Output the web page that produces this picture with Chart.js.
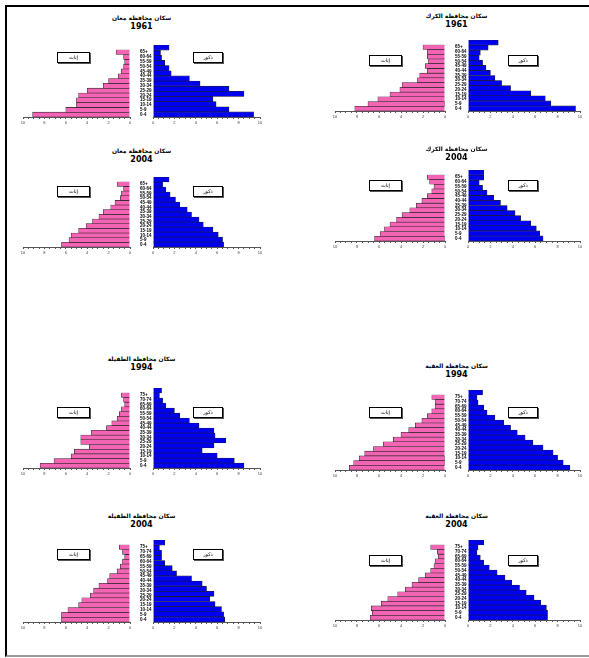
<!DOCTYPE html>
<html lang="ar">
<head>
<meta charset="utf-8">
<script src="https://cdn.jsdelivr.net/npm/chart.js@4"></script>
<style>
  body { margin: 0; background: #fff; }
  #page {
    position: relative; width: 589px; height: 658px; overflow: hidden;
    font-family: "DejaVu Sans", sans-serif;
  }
  #frame {
    position: absolute; left: 5px; top: 5px; width: 590px; height: 648px;
    border-left: 2px solid #000; border-top: 2px solid #000; border-bottom: 2px solid #999;
  }
  .title {
    position: absolute; width: 160px; text-align: center; direction: rtl;
    font-size: 6px; font-weight: bold; line-height: 9px; color: #000;
  }
  .title b { display: block; font-size: 8px; direction: ltr; }
  .key {
    position: absolute; height: 9px; border: 1px solid #000; background: #fff;
    box-shadow: 1px 1px 0 #555; font-size: 5px; line-height: 9px; text-align: center;
    direction: rtl;
  }
  canvas { position: absolute; }
</style>
</head>
<body>
<div id="page"><div id="frame"></div></div>
<script>
// age groups (youngest first)
const ages14 = ['0-4', '5-9', '10-14', '15-19', '20-24', '25-29', '30-34', '35-39',
  '40-44', '45-49', '50-54', '55-59', '60-64', '65+'];
const ages16 = ['0-4', '5-9', '10-14', '15-19', '20-24', '25-29', '30-34', '35-39',
  '40-44', '45-49', '50-54', '55-59', '60-64', '65-69', '70-74', '75+'];

// percent of population per age group
const maan1961F = [9.1, 6.0, 5.0, 5.0, 4.8, 4.0, 2.5, 2.0, 1.1, 0.8, 0.6, 0.5, 0.6, 1.3];
const maan1961M = [9.4, 7.1, 5.9, 5.6, 8.5, 7.1, 4.4, 3.4, 1.7, 1.5, 1.1, 0.8, 0.7, 1.5];
const karak1961F = [8.2, 7.0, 6.1, 5.0, 4.1, 3.9, 2.5, 2.3, 1.6, 1.8, 1.5, 1.6, 1.6, 2.0];
const karak1961M = [9.6, 7.4, 6.9, 5.6, 3.8, 3.0, 2.4, 2.0, 1.6, 1.3, 1.0, 1.1, 1.8, 2.7];
const maan2004F = [6.4, 5.7, 5.5, 4.8, 4.1, 3.5, 2.9, 2.5, 1.8, 1.4, 0.9, 0.8, 0.6, 1.2];
const maan2004M = [6.6, 6.5, 6.1, 5.6, 4.7, 4.3, 3.6, 3.2, 2.5, 2.1, 1.6, 1.2, 0.9, 1.5];
const karak2004F = [6.4, 5.9, 5.5, 5.0, 4.4, 3.9, 3.2, 2.6, 2.1, 1.6, 1.2, 1.0, 1.4, 1.6];
const karak2004M = [6.7, 6.4, 6.1, 5.6, 4.7, 4.2, 3.5, 2.9, 2.3, 1.7, 1.3, 1.0, 1.4, 1.4];
const tafila1994F = [8.4, 7.1, 5.5, 5.2, 3.8, 4.6, 4.6, 3.6, 2.2, 1.7, 1.2, 1.0, 0.8, 0.5, 0.6, 0.8];
const tafila1994M = [8.5, 7.6, 6.0, 4.6, 5.7, 6.8, 5.8, 5.7, 4.3, 3.4, 2.5, 2.0, 1.2, 0.9, 0.6, 0.8];
const aqaba1994F = [8.7, 8.3, 7.8, 7.3, 6.5, 5.6, 4.7, 4.0, 3.3, 2.7, 2.1, 1.6, 1.2, 0.9, 0.9, 1.2];
const aqaba1994M = [9.1, 8.5, 8.0, 7.6, 6.7, 5.8, 5.1, 4.4, 3.8, 3.2, 2.4, 1.7, 1.4, 0.9, 0.8, 1.3];
const tafila2004F = [6.4, 6.4, 5.8, 4.8, 4.5, 3.7, 3.4, 2.9, 2.1, 1.9, 1.2, 0.9, 0.7, 0.5, 0.7, 1.0];
const tafila2004M = [6.7, 6.6, 6.4, 5.8, 5.3, 5.7, 5.0, 4.6, 3.6, 2.2, 1.8, 1.1, 0.8, 0.8, 0.6, 1.1];
const aqaba2004F = [6.8, 6.6, 6.7, 5.8, 5.2, 4.3, 3.6, 3.0, 2.4, 1.8, 1.3, 1.0, 0.9, 0.6, 0.7, 1.3];
const aqaba2004M = [7.1, 7.1, 7.0, 6.5, 5.9, 5.2, 4.6, 3.9, 3.3, 2.6, 1.9, 1.4, 1.1, 0.8, 0.9, 1.4];

const femaleLabel = 'إناث';
const maleLabel = 'ذكور';
const pink = '#f464b4';
const blue = '#0000f0';

const page = document.getElementById('page');
const PAD = 4;     // room for edge tick labels
const AXIS_H = 10; // x-axis strip under the bars

// column geometry: left end of female axis, female zero, male zero, male axis end
const colLeft = { x0: 23, xc: 130, xb: 153, x1: 260 };
const colRight = { x0: 335, xc: 445, xb: 468, x1: 580 };

function xAxis(reverse) {
  return {
    type: 'linear', min: 0, max: 10, reverse: reverse,
    afterFit: s => { s.height = AXIS_H; },
    border: { color: '#555', width: 1 },
    grid: { drawOnChartArea: false, tickLength: 2, color: '#555' },
    ticks: {
      stepSize: 0.5, autoSkip: false, maxRotation: 0, padding: 1,
      font: { size: 4 }, color: '#444',
      callback: v => (v % 2 === 0 ? v : '')
    }
  };
}

// one side of a pyramid; the female side carries the age labels on its right
function half(el, labels, values, color, female, ageW) {
  return new Chart(el, {
    type: 'bar',
    data: {
      labels: labels,
      datasets: [{
        data: values,
        backgroundColor: color,
        borderColor: '#222',
        borderWidth: 0.6,
        barPercentage: 1,
        categoryPercentage: 1
      }]
    },
    options: {
      indexAxis: 'y',
      responsive: false,
      animation: false,
      layout: { padding: female ? { left: PAD } : { right: PAD, left: PAD } },
      plugins: { legend: { display: false }, tooltip: { enabled: false } },
      scales: {
        x: xAxis(female),
        y: {
          display: female,
          reverse: true,
          position: 'right',
          afterFit: s => { if (female) s.width = ageW; },
          border: { display: false },
          grid: { display: false },
          ticks: {
            autoSkip: false, padding: 2,
            font: { size: 4.5, weight: 'bold' }, color: '#000'
          }
        }
      }
    }
  });
}

function addCanvas(left, top, w, h) {
  const c = document.createElement('canvas');
  c.width = w;
  c.height = h;
  c.style.left = left + 'px';
  c.style.top = top + 'px';
  page.appendChild(c);
  return c;
}

function addBox(cls, left, top, width, html) {
  const d = document.createElement('div');
  d.className = cls;
  d.style.left = left + 'px';
  d.style.top = top + 'px';
  d.style.width = width + 'px';
  d.innerHTML = html;
  page.appendChild(d);
}

function pyramid(col, yTop, yBot, titleY, place, year, ages, fem, male, keyY) {
  const ageW = col.xb - col.xc;
  const h = yBot - yTop + AXIS_H;

  const cf = addCanvas(col.x0 - PAD, yTop, col.xc - col.x0 + PAD + ageW, h);
  const cm = addCanvas(col.xb - PAD, yTop, col.x1 - col.xb + 2 * PAD, h);
  half(cf, ages, fem, pink, true, ageW);
  half(cm, ages, male, blue, false, 0);

  addBox('title', (col.xc + col.xb) / 2 - 80, titleY, 160,
    'سكان محافظة ' + place + '<b>' + year + '</b>');
  addBox('key', col.x0 + 34, keyY, 31, femaleLabel);
  addBox('key', col.xb + 40, keyY, 28, maleLabel);
}

pyramid(colLeft, 45, 117, 13, 'معان', '1961', ages14, maan1961F, maan1961M, 52);
pyramid(colRight, 40, 111, 11, 'الكرك', '1961', ages14, karak1961F, karak1961M, 55);
pyramid(colLeft, 177, 247, 146, 'معان', '2004', ages14, maan2004F, maan2004M, 186);
pyramid(colRight, 170, 241, 144, 'الكرك', '2004', ages14, karak2004F, karak2004M, 180);
pyramid(colLeft, 388, 468, 354, 'الطفيلة', '1994', ages16, tafila1994F, tafila1994M, 407);
pyramid(colRight, 390, 470, 361, 'العقبة', '1994', ages16, aqaba1994F, aqaba1994M, 407);
pyramid(colLeft, 540, 622, 511, 'الطفيلة', '2004', ages16, tafila2004F, tafila2004M, 549);
pyramid(colRight, 540, 620, 511, 'العقبة', '2004', ages16, aqaba2004F, aqaba2004M, 555);
</script>
</body>
</html>
